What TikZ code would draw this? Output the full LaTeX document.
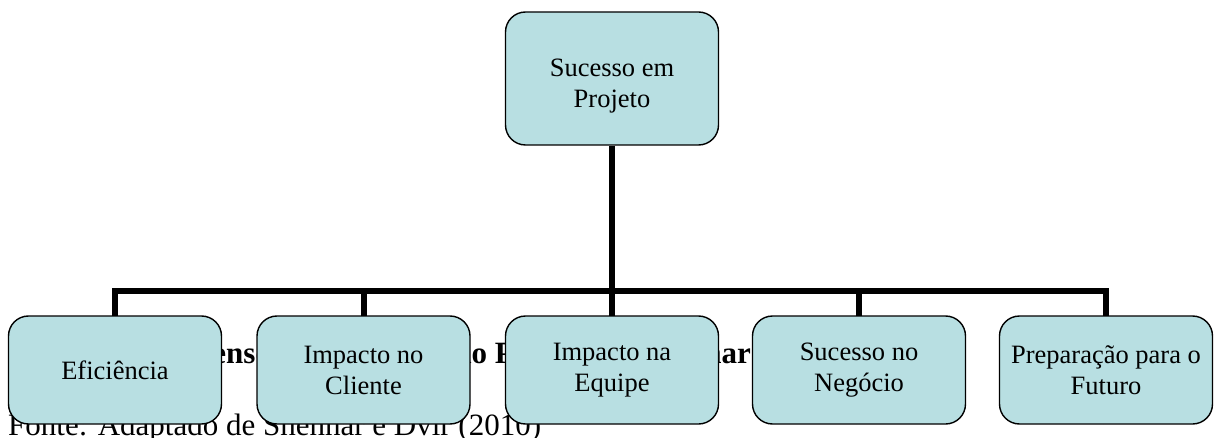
\documentclass[tikz,border=0pt]{standalone}
\usepackage{fontspec}
\setmainfont{Liberation Serif}
\definecolor{boxfill}{RGB}{184,223,226}
\begin{document}
\begin{tikzpicture}[x=1pt,y=-1pt,
  box/.style={draw=black, line width=1.4pt, fill=boxfill, rounded corners=20pt,
    minimum width=213pt, minimum height=108pt, align=center, inner sep=4pt,
    font=\fontsize{26.5}{31}\selectfont},
  conn/.style={line width=6pt, draw=black},
  note/.style={anchor=base west, inner sep=0pt, font=\fontsize{31}{36}\selectfont},
  capt/.style={anchor=base west, inner sep=0pt, font=\bfseries\fontsize{31}{36}\selectfont}]
\useasboundingbox (0,0) rectangle (1214,438);

% caption and source line, set behind the chart
\node[capt] (caption) at (22,363) {Figura 1: Dimensões do Sucesso do Projeto de Shenhar};
\node[note] (source) at (8,435) {Fonte: Adaptado de Shenhar e Dvir (2010)};

% root box (strut drops its two lines a little below the middle)
\coordinate (bus) at (612,291);
\node[box, minimum height=133pt] (top) at (612,78.5) {\rule{0pt}{32pt}Sucesso em\\Projeto};

% connectors
\draw[conn] (top.south) -- (bus);
\path (115,370) coordinate (p1) (363.5,370) coordinate (p2) (612,370) coordinate (p3)
      (859,370) coordinate (p4) (1106,370) coordinate (p5);
\foreach \i in {1,...,5} \draw[conn] ([yshift=-54pt]p\i) |- (bus);

% branch boxes
\node[box] (b1) at (p1) {Eficiência};
\node[box] (b2) at (p2) {Impacto no\\Cliente};
\node[box] (b3) at (p3) {Impacto na\\Equipe};
\node[box] (b4) at (p4) {Sucesso no\\Negócio};
\node[box] (b5) at (p5) {Preparação para o\\Futuro};
\end{tikzpicture}
\end{document}
